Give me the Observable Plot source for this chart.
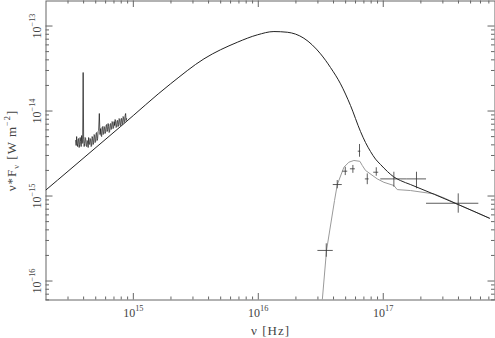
<!DOCTYPE html>
<html><head><meta charset="utf-8">
<script src="https://cdn.jsdelivr.net/npm/d3@7"></script>
<script src="https://cdn.jsdelivr.net/npm/@observablehq/plot@0.6"></script>
<style>
html,body{margin:0;padding:0;background:#fff;}
#chart svg{display:block;}
</style></head>
<body><div id="chart"></div>
<script>
// ---- optical spectrum ----
const specNu = [3.454e14,3.486e14,3.518e14,3.551e14,3.584e14,3.617e14,3.650e14,3.684e14,3.718e14,3.752e14,
  3.787e14,3.822e14,3.858e14,3.893e14,3.929e14,3.966e14,4.002e14,4.039e14,4.077e14,4.115e14,
  4.152e14,4.190e14,4.229e14,4.268e14,4.308e14,4.348e14,4.388e14,4.429e14,4.470e14,4.511e14,
  4.553e14,4.595e14,4.637e14,4.680e14,4.724e14,4.768e14,4.811e14,4.856e14,4.901e14,4.946e14,
  4.992e14,5.038e14,5.085e14,5.132e14,5.179e14,5.227e14,5.275e14,5.343e14,5.412e14,5.473e14,
  5.524e14,5.575e14,5.627e14,5.678e14,5.731e14,5.784e14,5.837e14,5.891e14,5.945e14,6.001e14,
  6.056e14,6.112e14,6.169e14,6.226e14,6.283e14,6.342e14,6.401e14,6.460e14,6.520e14,6.580e14,
  6.641e14,6.702e14,6.764e14,6.827e14,6.890e14,6.954e14,7.018e14,7.083e14,7.149e14,7.214e14,
  7.281e14,7.348e14,7.416e14,7.485e14,7.554e14,7.624e14,7.695e14,7.766e14,7.838e14,7.910e14,
  7.983e14,8.057e14,8.132e14,8.207e14,8.283e14,8.359e14,8.436e14,8.515e14,8.594e14,8.673e14,
  8.753e14,8.834e14];
const specFlux = [4.50e-15,3.93e-15,5.01e-15,4.15e-15,3.82e-15,4.62e-15,4.75e-15,3.72e-15,4.04e-15,4.88e-15,
  4.38e-15,3.82e-15,5.15e-15,4.15e-15,4.26e-15,2.84e-14,4.62e-15,3.82e-15,4.15e-15,4.88e-15,
  4.75e-15,3.93e-15,3.82e-15,4.50e-15,4.38e-15,3.72e-15,4.88e-15,4.15e-15,4.04e-15,4.75e-15,
  4.62e-15,3.82e-15,3.93e-15,5.01e-15,4.75e-15,4.04e-15,4.26e-15,5.29e-15,5.15e-15,4.26e-15,
  4.38e-15,5.44e-15,5.59e-15,4.50e-15,4.75e-15,5.74e-15,5.90e-15,9.35e-15,5.29e-15,6.22e-15,
  5.15e-15,5.01e-15,6.40e-15,6.57e-15,5.29e-15,5.44e-15,6.57e-15,6.40e-15,5.44e-15,5.74e-15,
  6.75e-15,6.94e-15,5.74e-15,6.06e-15,7.13e-15,6.57e-15,5.59e-15,5.74e-15,6.94e-15,7.13e-15,
  6.06e-15,6.22e-15,7.52e-15,7.32e-15,6.22e-15,6.40e-15,7.52e-15,6.75e-15,7.94e-15,7.52e-15,
  6.40e-15,6.57e-15,7.73e-15,7.73e-15,6.57e-15,6.94e-15,8.16e-15,7.94e-15,6.75e-15,6.75e-15,
  8.16e-15,8.16e-15,6.94e-15,7.13e-15,8.62e-15,8.39e-15,7.32e-15,7.52e-15,8.85e-15,9.35e-15,
  7.73e-15,8.16e-15];

// ---- disk model (black) ----
const modelNu = [2.0e14,3.055e14,7.943e14,1.986e15,3.673e15,6.792e15,9.817e15,1.334e16,1.706e16,2.317e16,
  3.148e16,3.784e16,4.550e16,5.470e16,6.577e16,7.211e16,7.907e16,8.670e16,9.506e16,1.081e17,
  1.216e17,1.374e17,1.652e17,3.981e17,7.079e17];
const modelFlux = [1.18e-15,2.00e-15,6.61e-15,2.09e-14,4.11e-14,6.44e-14,7.87e-14,8.61e-14,8.45e-14,7.18e-14,
  4.71e-14,3.25e-14,2.09e-14,1.161e-14,5.74e-15,4.26e-15,3.34e-15,2.72e-15,2.35e-15,1.94e-15,
  1.675e-15,1.52e-15,1.365e-15,7.94e-16,5.48e-16];

// ---- absorbed model (grey) ----
const absNu = [3.199e16,3.516e16,4.074e16,4.285e16,4.842e16,5.309e16,5.821e16,6.501e16,6.792e16,7.211e16,
  8.954e16,1.012e17,1.216e17,1.294e17,1.652e17,2.541e17,3.148e17,3.981e17,7.079e17];
const absFlux = [4.5e-17,2.29e-16,8.85e-16,1.36e-15,2.18e-15,2.50e-15,2.62e-15,2.56e-15,2.29e-15,2.00e-15,
  1.59e-15,1.45e-15,1.33e-15,1.19e-15,1.16e-15,1.06e-15,9.35e-16,7.94e-16,5.48e-16];

// ---- X-ray data points with error bars ----
const xrayNu     = [3.499e16,4.285e16,4.966e16,5.715e16,6.457e16,7.447e16,8.790e16,1.216e17,1.845e17,3.981e17];
const xrayNuLo   = [3.00e16,3.98e16,4.74e16,5.46e16,6.31e16,7.19e16,8.39e16,9.55e16,1.55e17,2.22e17];
const xrayNuHi   = [3.98e16,4.70e16,5.20e16,5.98e16,6.61e16,7.71e16,9.20e16,1.55e17,2.22e17,5.82e17];
const xrayFlux   = [2.29e-16,1.365e-15,1.96e-15,2.09e-15,3.37e-15,1.59e-15,1.905e-15,1.59e-15,1.59e-15,8.22e-16];
const xrayFluxLo = [1.905e-16,1.216e-15,1.74e-15,1.85e-15,2.86e-15,1.36e-15,1.71e-15,1.27e-15,1.216e-15,6.28e-16];
const xrayFluxHi = [2.74e-16,1.52e-15,2.18e-15,2.29e-15,4.04e-15,1.82e-15,2.15e-15,1.905e-15,1.905e-15,1.06e-15];

// ---- ticks ----
const xTickValues = [1e15, 1e16, 1e17];
const xTickLabels = ["10^{15}", "10^{16}", "10^{17}"];
const yTickValues = [1e-16, 1e-15, 1e-14, 1e-13];
const yTickLabels = ["10^{−16}", "10^{−15}", "10^{−14}", "10^{−13}"];
const xTitle = "ν [Hz]";
const yTitle = "ν*F_{ν} [W m^{−2}]";

const xDomain = [2.0e14, 7.84e17];
const yDomain = [5.98e-17, 1.97e-13];

const W = 495, H = 338;
const mL = 45.5, mR = 0.5, mT = 0.5, mB = 38.5;
const pw = W - mL - mR, ph = H - mT - mB;

function minors(lo, hi, d0, d1) {
  const out = [];
  for (let k = d0; k <= d1; k++) for (let m = 2; m <= 9; m++) {
    const v = m * Math.pow(10, k);
    if (v > lo && v < hi) out.push(v);
  }
  return out;
}
const xMinor = minors(xDomain[0], xDomain[1], 14, 17);
const yMinor = minors(yDomain[0], yDomain[1], -17, -13);

const spec = specNu.map((nu, i) => ({nu, f: specFlux[i]}));
const model = modelNu.map((nu, i) => ({nu, f: modelFlux[i]}));
const abs = absNu.map((nu, i) => ({nu, f: absFlux[i]}));
const xray = xrayNu.map((nu, i) => ({nu, lo: xrayNuLo[i], hi: xrayNuHi[i], f: xrayFlux[i], flo: xrayFluxLo[i], fhi: xrayFluxHi[i]}));

const axc = "#666";
const txt = "#444";

const chart = Plot.plot({
  width: W, height: H,
  marginLeft: mL, marginRight: mR, marginTop: mT, marginBottom: mB,
  style: {fontFamily: "'Liberation Serif', serif", fontSize: "12px", color: txt, background: "#fff"},
  x: {type: "log", domain: xDomain, axis: null},
  y: {type: "log", domain: yDomain, axis: null},
  marks: [
    Plot.frame({stroke: axc, strokeWidth: 1}),
    Plot.tickX(xMinor, {x: d => d, insetTop: ph - 3, stroke: axc}),
    Plot.tickX(xTickValues, {x: d => d, insetTop: ph - 6.5, stroke: axc}),
    Plot.tickX(xMinor, {x: d => d, insetBottom: ph - 3, stroke: axc}),
    Plot.tickX(xTickValues, {x: d => d, insetBottom: ph - 6.5, stroke: axc}),
    Plot.tickY(yMinor, {y: d => d, insetRight: pw - 3.5, stroke: axc}),
    Plot.tickY(yTickValues, {y: d => d, insetRight: pw - 7, stroke: axc}),
    Plot.tickY(yMinor, {y: d => d, insetLeft: pw - 3.5, stroke: axc}),
    Plot.tickY(yTickValues, {y: d => d, insetLeft: pw - 7, stroke: axc}),
    Plot.line(abs, {x: "nu", y: "f", stroke: "#9a9a9a", strokeWidth: 1, clip: true}),
    Plot.line(model, {x: "nu", y: "f", stroke: "#222", strokeWidth: 1, curve: "monotone-x", clip: true}),
    Plot.line(spec, {x: "nu", y: "f", stroke: "#111", strokeWidth: 0.7, clip: true}),
    Plot.ruleY(xray, {y: "f", x1: "lo", x2: "hi", stroke: "#333", strokeWidth: 0.8, clip: true}),
    Plot.ruleX(xray, {x: "nu", y1: "flo", y2: "fhi", stroke: "#333", strokeWidth: 0.8, clip: true}),
    Plot.text(xTickValues, {x: d => d, text: (d, i) => xTickLabels[i], frameAnchor: "bottom", dy: 13.4, lineAnchor: "middle", fontSize: 12}),
    Plot.text(yTickValues, {y: d => d, text: (d, i) => yTickLabels[i], frameAnchor: "left", dx: -8.7, rotate: -90, textAnchor: "middle", lineAnchor: "middle", fontSize: 12}),
    Plot.text([xTitle], {text: d => d, frameAnchor: "bottom", dy: 31, lineAnchor: "middle", fontSize: 13}),
    Plot.text([yTitle], {text: d => d, frameAnchor: "left", dx: -34.2, rotate: -90, textAnchor: "middle", lineAnchor: "middle", fontSize: 13})
  ]
});

const NS = "http://www.w3.org/2000/svg";
function rich(el, s) {
  const big = parseFloat(el.getAttribute("font-size")) || 12;
  const small = Math.round(big * 0.7 * 10) / 10;
  el.textContent = "";
  const re = /([\^_])\{([^}]*)\}/g;
  let last = 0, m, cur = 0;
  const add = (t, off, sz) => {
    const ts = document.createElementNS(NS, "tspan");
    const d = off - cur;
    if (d !== 0) ts.setAttribute("dy", d);
    cur = off;
    if (sz) ts.setAttribute("font-size", sz);
    ts.textContent = t;
    el.appendChild(ts);
  };
  while ((m = re.exec(s))) {
    if (m.index > last) add(s.slice(last, m.index), 0);
    add(m[2], m[1] === "^" ? -big * 0.5 : big * 0.25, small);
    last = re.lastIndex;
  }
  if (last < s.length) add(s.slice(last), 0);
}
chart.querySelectorAll("text").forEach(t => {
  const s = t.textContent;
  if (/[\^_]\{/.test(s)) rich(t, s);
});
chart.querySelectorAll("text").forEach(t => {
  if (t.textContent.indexOf("W m") >= 0 || t.textContent.indexOf("[Hz]") >= 0) t.setAttribute("letter-spacing", "1");
});

document.getElementById("chart").appendChild(chart);
</script>
</body></html>
